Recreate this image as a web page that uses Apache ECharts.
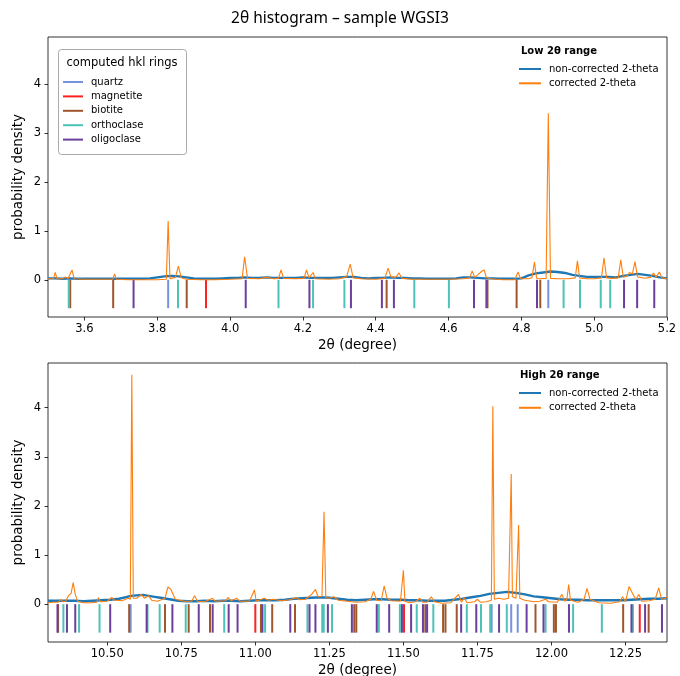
<!DOCTYPE html>
<html>
<head>
<meta charset="utf-8">
<script src="https://cdn.jsdelivr.net/npm/echarts@6/dist/echarts.min.js"></script>
<style>
  html, body { margin: 0; padding: 0; background: #fff; }
  #chart { width: 680px; height: 676px; }
</style>
</head>
<body>
<div id="chart"></div>
<script>
// ---- Low 2θ range: histogram densities [2θ, density] ----
const lowNonCorrected = [
  [3.50,0.03],[3.52,0.03],[3.54,0.02],[3.56,0.03],[3.58,0.02],[3.60,0.02],[3.62,0.02],[3.64,0.02],
  [3.66,0.02],[3.68,0.02],[3.70,0.02],[3.72,0.02],[3.74,0.02],[3.76,0.02],[3.78,0.03],[3.80,0.05],
  [3.82,0.07],[3.84,0.08],[3.86,0.07],[3.88,0.05],[3.90,0.03],[3.92,0.02],[3.94,0.02],[3.96,0.02],
  [3.98,0.03],[4.00,0.04],[4.02,0.04],[4.04,0.05],[4.06,0.04],[4.08,0.04],[4.10,0.05],[4.12,0.04],
  [4.14,0.04],[4.16,0.04],[4.18,0.04],[4.20,0.05],[4.22,0.04],[4.24,0.04],[4.26,0.04],[4.28,0.04],
  [4.30,0.05],[4.32,0.06],[4.34,0.06],[4.36,0.04],[4.38,0.03],[4.40,0.04],[4.42,0.04],[4.44,0.05],
  [4.46,0.04],[4.48,0.04],[4.50,0.03],[4.52,0.03],[4.54,0.02],[4.56,0.02],[4.58,0.02],[4.60,0.02],
  [4.62,0.03],[4.64,0.05],[4.66,0.05],[4.68,0.04],[4.70,0.03],[4.72,0.03],[4.74,0.02],[4.76,0.02],
  [4.78,0.02],[4.80,0.03],[4.82,0.09],[4.84,0.13],[4.86,0.15],[4.88,0.17],[4.90,0.16],[4.92,0.14],
  [4.94,0.10],[4.96,0.08],[4.98,0.06],[5.00,0.06],[5.02,0.06],[5.04,0.06],[5.06,0.05],[5.08,0.08],
  [5.10,0.10],[5.12,0.12],[5.14,0.10],[5.16,0.08],[5.18,0.05],[5.20,0.03]
];
const lowCorrected = [
  [3.500,0.02],[3.515,0.02],[3.520,0.15],[3.525,0.02],[3.540,0.02],[3.548,0.06],[3.555,0.02],
  [3.560,0.03],[3.566,0.20],[3.572,0.02],[3.600,0.01],[3.640,0.01],[3.678,0.01],[3.683,0.12],
  [3.688,0.01],[3.720,0.00],[3.760,0.00],[3.800,0.00],[3.825,0.01],[3.830,1.20],[3.835,0.02],
  [3.850,0.05],[3.858,0.28],[3.866,0.04],[3.880,0.01],[3.920,0.00],[3.960,0.00],[4.000,0.01],
  [4.033,0.02],[4.040,0.47],[4.048,0.03],[4.080,0.02],[4.100,0.05],[4.120,0.02],[4.133,0.03],
  [4.140,0.20],[4.147,0.03],[4.180,0.02],[4.203,0.03],[4.210,0.20],[4.217,0.04],[4.222,0.03],
  [4.228,0.15],[4.234,0.02],[4.270,0.01],[4.300,0.02],[4.320,0.06],[4.330,0.32],[4.338,0.04],
  [4.360,0.02],[4.400,0.01],[4.425,0.03],[4.434,0.24],[4.442,0.06],[4.455,0.05],[4.464,0.14],
  [4.472,0.03],[4.500,0.01],[4.550,0.01],[4.600,0.01],[4.640,0.02],[4.658,0.04],[4.665,0.18],
  [4.672,0.05],[4.680,0.10],[4.692,0.18],[4.698,0.20],[4.704,0.04],[4.715,0.02],[4.750,0.00],
  [4.782,0.00],[4.791,0.16],[4.798,0.02],[4.820,0.02],[4.829,0.04],[4.836,0.36],[4.842,0.03],
  [4.850,0.02],[4.868,0.03],[4.874,3.40],[4.880,0.03],[4.900,0.02],[4.930,0.02],[4.948,0.04],
  [4.954,0.39],[4.960,0.04],[4.980,0.02],[5.000,0.02],[5.020,0.04],[5.027,0.45],[5.034,0.04],
  [5.050,0.03],[5.066,0.04],[5.073,0.41],[5.080,0.05],[5.090,0.08],[5.097,0.15],[5.105,0.12],
  [5.112,0.37],[5.119,0.06],[5.140,0.03],[5.155,0.05],[5.163,0.14],[5.170,0.05],[5.179,0.16],
  [5.186,0.04],[5.200,0.02]
];

// ---- High 2θ range: histogram densities [2θ, density] ----
const highNonCorrected = [
  [10.30,0.07],[10.33,0.07],[10.36,0.07],[10.39,0.07],[10.42,0.06],[10.45,0.07],[10.48,0.08],
  [10.51,0.09],[10.54,0.11],[10.56,0.14],[10.58,0.17],[10.60,0.18],[10.62,0.19],[10.64,0.17],
  [10.66,0.15],[10.68,0.13],[10.70,0.11],[10.72,0.09],[10.74,0.07],[10.77,0.06],[10.80,0.06],
  [10.83,0.07],[10.86,0.06],[10.89,0.07],[10.92,0.07],[10.95,0.06],[10.98,0.07],[11.01,0.08],
  [11.04,0.08],[11.07,0.08],[11.10,0.09],[11.13,0.11],[11.16,0.12],[11.19,0.13],[11.22,0.14],
  [11.25,0.13],[11.28,0.11],[11.31,0.09],[11.34,0.08],[11.37,0.09],[11.40,0.10],[11.43,0.10],
  [11.46,0.09],[11.49,0.09],[11.52,0.08],[11.55,0.08],[11.58,0.07],[11.61,0.07],[11.64,0.07],
  [11.67,0.09],[11.70,0.11],[11.73,0.14],[11.76,0.17],[11.79,0.21],[11.82,0.23],[11.85,0.25],
  [11.88,0.23],[11.91,0.20],[11.94,0.16],[11.97,0.14],[12.00,0.12],[12.03,0.10],[12.06,0.09],
  [12.09,0.09],[12.12,0.08],[12.15,0.08],[12.18,0.08],[12.21,0.08],[12.24,0.08],[12.27,0.09],
  [12.30,0.10],[12.33,0.11],[12.36,0.11],[12.39,0.12]
];
const highCorrected = [
  [10.300,0.03],[10.320,0.04],[10.335,0.04],[10.342,0.10],[10.350,0.05],[10.360,0.06],[10.370,0.18],
  [10.378,0.22],[10.385,0.44],[10.392,0.20],[10.400,0.06],[10.420,0.03],[10.450,0.03],[10.465,0.04],
  [10.470,0.13],[10.478,0.05],[10.500,0.06],[10.515,0.14],[10.525,0.08],[10.550,0.07],[10.570,0.12],
  [10.578,0.10],[10.583,4.67],[10.588,0.12],[10.600,0.12],[10.615,0.20],[10.625,0.12],[10.640,0.17],
  [10.650,0.08],[10.670,0.06],[10.695,0.12],[10.705,0.35],[10.715,0.30],[10.730,0.10],[10.760,0.06],
  [10.785,0.06],[10.795,0.17],[10.805,0.06],[10.830,0.05],[10.855,0.12],[10.865,0.06],[10.900,0.07],
  [10.908,0.14],[10.918,0.07],[10.938,0.12],[10.948,0.06],[10.980,0.06],[10.997,0.29],[11.003,0.06],
  [11.030,0.12],[11.045,0.08],[11.060,0.10],[11.090,0.07],[11.115,0.09],[11.140,0.13],[11.150,0.09],
  [11.170,0.10],[11.190,0.20],[11.203,0.30],[11.212,0.15],[11.225,0.16],[11.232,1.88],[11.238,0.13],
  [11.250,0.12],[11.265,0.15],[11.280,0.08],[11.310,0.06],[11.340,0.04],[11.370,0.05],[11.390,0.10],
  [11.399,0.26],[11.410,0.08],[11.425,0.07],[11.435,0.37],[11.445,0.12],[11.460,0.07],[11.490,0.06],
  [11.496,0.10],[11.500,0.69],[11.505,0.06],[11.520,0.03],[11.540,0.05],[11.556,0.12],[11.565,0.04],
  [11.580,0.04],[11.594,0.15],[11.605,0.05],[11.630,0.02],[11.660,0.03],[11.686,0.20],[11.696,0.04],
  [11.705,0.13],[11.715,0.03],[11.740,0.05],[11.750,0.10],[11.760,0.04],[11.780,0.05],[11.797,0.08],
  [11.802,4.03],[11.807,0.10],[11.820,0.12],[11.840,0.10],[11.855,0.12],[11.860,0.15],[11.864,2.65],
  [11.868,0.15],[11.880,0.12],[11.886,0.15],[11.889,1.61],[11.893,0.12],[11.910,0.08],[11.940,0.05],
  [11.960,0.06],[11.980,0.10],[11.990,0.05],[12.020,0.04],[12.035,0.20],[12.045,0.06],[12.052,0.10],
  [12.058,0.40],[12.064,0.08],[12.090,0.04],[12.110,0.10],[12.120,0.32],[12.130,0.10],[12.160,0.03],
  [12.200,0.02],[12.230,0.05],[12.240,0.15],[12.250,0.05],[12.262,0.36],[12.275,0.20],[12.285,0.10],
  [12.295,0.20],[12.305,0.06],[12.330,0.07],[12.350,0.10],[12.362,0.33],[12.372,0.10],[12.385,0.12],
  [12.390,0.15]
];

// ---- computed hkl ring positions (2θ, degree) ----
const minerals = ['quartz', 'magnetite', 'biotite', 'orthoclase', 'oligoclase'];
const mineralColors = ['#7592dc', '#ff2020', '#a0562d', '#4cc2b8', '#6b3f9c'];
const lowRings = {
  quartz:     [3.830, 4.874],
  magnetite:  [3.934],
  biotite:    [3.561, 3.679, 3.881, 4.430, 4.707, 4.787, 4.852],
  orthoclase: [3.557, 3.857, 4.133, 4.228, 4.314, 4.506, 4.601, 4.916, 4.961, 5.018, 5.044],
  oligoclase: [3.735, 4.043, 4.218, 4.332, 4.417, 4.450, 4.670, 4.704, 4.843, 5.082, 5.118, 5.165]
};
const highRings = {
  quartz:     [10.579, 11.798, 11.864, 11.886],
  magnetite:  [11.000, 11.502, 12.298],
  biotite:    [10.334, 10.574, 10.695, 10.775, 10.847, 11.019, 11.057, 11.134, 11.334, 11.341,
               11.574, 11.634, 11.642, 11.680, 11.946, 12.008, 12.015, 12.242, 12.328],
  orthoclase: [10.352, 10.405, 10.474, 10.636, 10.677, 10.765, 10.895, 11.033, 11.176, 11.226,
               11.231, 11.259, 11.417, 11.488, 11.545, 11.601, 11.714, 11.762, 11.793, 11.849,
               11.980, 12.073, 12.170, 12.275],
  oligoclase: [10.332, 10.364, 10.392, 10.510, 10.633, 10.720, 10.809, 10.856, 10.910, 10.940,
               11.024, 11.118, 11.183, 11.203, 11.245, 11.326, 11.410, 11.452, 11.495, 11.526,
               11.566, 11.580, 11.695, 11.746, 11.823, 11.916, 11.973, 12.059, 12.270, 12.316, 12.373]
};

// axis tick values
const lowTicksX = [3.6, 3.8, 4.0, 4.2, 4.4, 4.6, 4.8, 5.0, 5.2];
const highTicksX = [10.50, 10.75, 11.00, 11.25, 11.50, 11.75, 12.00, 12.25];
const ticksY = [0, 1, 2, 3, 4];

const RING_DEPTH = -0.58;   // ring markers hang below the zero line
const FONT = 'DejaVu Sans, Verdana, sans-serif';
const TITLE_FONT = '"Noto Sans", "Open Sans", sans-serif';
const COL_RAW = '#1f77b4';
const COL_COR = '#ff7f0e';

function ringSeries(rings, gridIdx) {
  return minerals.map((m, i) => ({
    name: m,
    type: 'custom',
    xAxisIndex: gridIdx,
    yAxisIndex: gridIdx,
    itemStyle: { color: mineralColors[i] },
    encode: { x: 0, y: 1 },
    data: rings[m].map(v => [v, 0]),
    renderItem: function (params, api) {
      const x = api.value(0);
      const p0 = api.coord([x, 0]);
      const p1 = api.coord([x, RING_DEPTH]);
      return {
        type: 'line',
        shape: { x1: p0[0], y1: p0[1], x2: p1[0], y2: p1[1] },
        style: { stroke: api.visual('color'), lineWidth: 2 }
      };
    },
    z: 2
  }));
}

function xAxis(gridIdx, min, max, ticks, digits) {
  return {
    type: 'value', gridIndex: gridIdx, min: min, max: max, position: 'bottom',
    name: '2θ (degree)', nameLocation: 'middle', nameGap: 21, nameMoveOverlap: false,
    nameTextStyle: { fontFamily: FONT, fontSize: 13.5, color: '#000' },
    axisLine: { show: false, onZero: false },
    axisTick: { show: true, inside: false, length: 3.5, customValues: ticks,
                lineStyle: { color: '#000', width: 0.8 } },
    axisLabel: { customValues: ticks, margin: 6, fontFamily: FONT, fontSize: 11.5, color: '#000',
                 formatter: v => Number(v).toFixed(digits) },
    splitLine: { show: false }
  };
}
function yAxis(gridIdx, min, max) {
  return {
    type: 'value', gridIndex: gridIdx, min: min, max: max, position: 'left',
    name: 'probability density', nameLocation: 'middle', nameGap: 23, nameRotate: 90,
    nameMoveOverlap: false,
    nameTextStyle: { fontFamily: FONT, fontSize: 13.5, color: '#000' },
    axisLine: { show: false, onZero: false },
    axisTick: { show: true, inside: false, length: 3.5, customValues: ticksY,
                lineStyle: { color: '#000', width: 0.8 } },
    axisLabel: { customValues: ticksY, margin: 7, fontFamily: FONT, fontSize: 11.5, color: '#000',
                 formatter: v => String(Math.round(v)) },
    splitLine: { show: false }
  };
}

const legendText = { fontFamily: FONT, fontSize: 10, color: '#000', lineHeight: 12, padding: [0, 0, 0, 3] };

const chart = echarts.init(document.getElementById('chart'), null, { renderer: 'canvas' });
chart.setOption({
  animation: false,
  backgroundColor: '#fff',
  title: {
    text: '2θ histogram – sample WGSI3',
    left: 'center', top: 6,
    textStyle: { fontFamily: TITLE_FONT, fontSize: 15.5, fontWeight: 'normal', color: '#000' }
  },
  grid: [
    { left: 48, top: 37, width: 619, height: 280, show: true, borderColor: '#000', borderWidth: 0.8,
      backgroundColor: 'transparent', containLabel: false, outerBoundsMode: 'none' },
    { left: 48, top: 363, width: 619, height: 279, show: true, borderColor: '#000', borderWidth: 0.8,
      backgroundColor: 'transparent', containLabel: false, outerBoundsMode: 'none' }
  ],
  xAxis: [
    xAxis(0, 3.5, 5.2, lowTicksX, 1),
    xAxis(1, 10.3, 12.39, highTicksX, 2)
  ],
  yAxis: [
    yAxis(0, -0.76, 4.96),
    yAxis(1, -0.77, 4.91)
  ],
  legend: [
    {
      data: minerals, orient: 'vertical', left: 63, top: 76, padding: 0,
      icon: 'rect', itemWidth: 20, itemHeight: 2, itemGap: 2.4,
      textStyle: legendText, selectedMode: false
    },
    {
      data: ['non-corrected 2-theta', 'corrected 2-theta'], orient: 'vertical', left: 519, top: 63, padding: 0,
      icon: 'rect', itemWidth: 22, itemHeight: 2, itemGap: 2.3,
      textStyle: legendText, selectedMode: false
    },
    {
      data: ['non-corrected 2-theta', 'corrected 2-theta'], orient: 'vertical', left: 519, top: 387, padding: 0,
      icon: 'rect', itemWidth: 22, itemHeight: 2, itemGap: 2.8,
      textStyle: legendText, selectedMode: false
    }
  ],
  graphic: [
    { type: 'rect', left: 58, top: 49, z: 0,
      shape: { width: 128, height: 105, r: 3 },
      style: { fill: 'rgba(255,255,255,0.85)', stroke: '#aaaaaa', lineWidth: 1 } },
    { type: 'text', x: 122, y: 63, z: 10,
      style: { text: 'computed hkl rings', fontFamily: FONT, fontSize: 11.5, fill: '#000',
               textAlign: 'center', textVerticalAlign: 'middle' } },
    { type: 'text', x: 521, y: 51, z: 10,
      style: { text: 'Low 2θ range', fontFamily: FONT, fontSize: 10, fontWeight: 'bold', fill: '#000',
               textAlign: 'left', textVerticalAlign: 'middle' } },
    { type: 'text', x: 520, y: 375, z: 10,
      style: { text: 'High 2θ range', fontFamily: FONT, fontSize: 10, fontWeight: 'bold', fill: '#000',
               textAlign: 'left', textVerticalAlign: 'middle' } }
  ],
  series: [
    ...ringSeries(lowRings, 0),
    ...ringSeries(highRings, 1),
    { name: 'non-corrected 2-theta', type: 'line', xAxisIndex: 0, yAxisIndex: 0, data: lowNonCorrected,
      showSymbol: false, lineStyle: { color: COL_RAW, width: 2.4 }, itemStyle: { color: COL_RAW }, z: 3 },
    { name: 'corrected 2-theta', type: 'line', xAxisIndex: 0, yAxisIndex: 0, data: lowCorrected,
      showSymbol: false, lineStyle: { color: COL_COR, width: 1.1 }, itemStyle: { color: COL_COR }, z: 4 },
    { name: 'non-corrected 2-theta', type: 'line', xAxisIndex: 1, yAxisIndex: 1, data: highNonCorrected,
      showSymbol: false, lineStyle: { color: COL_RAW, width: 2.4 }, itemStyle: { color: COL_RAW }, z: 3 },
    { name: 'corrected 2-theta', type: 'line', xAxisIndex: 1, yAxisIndex: 1, data: highCorrected,
      showSymbol: false, lineStyle: { color: COL_COR, width: 1.1 }, itemStyle: { color: COL_COR }, z: 4 }
  ]
});
</script>
</body>
</html>
